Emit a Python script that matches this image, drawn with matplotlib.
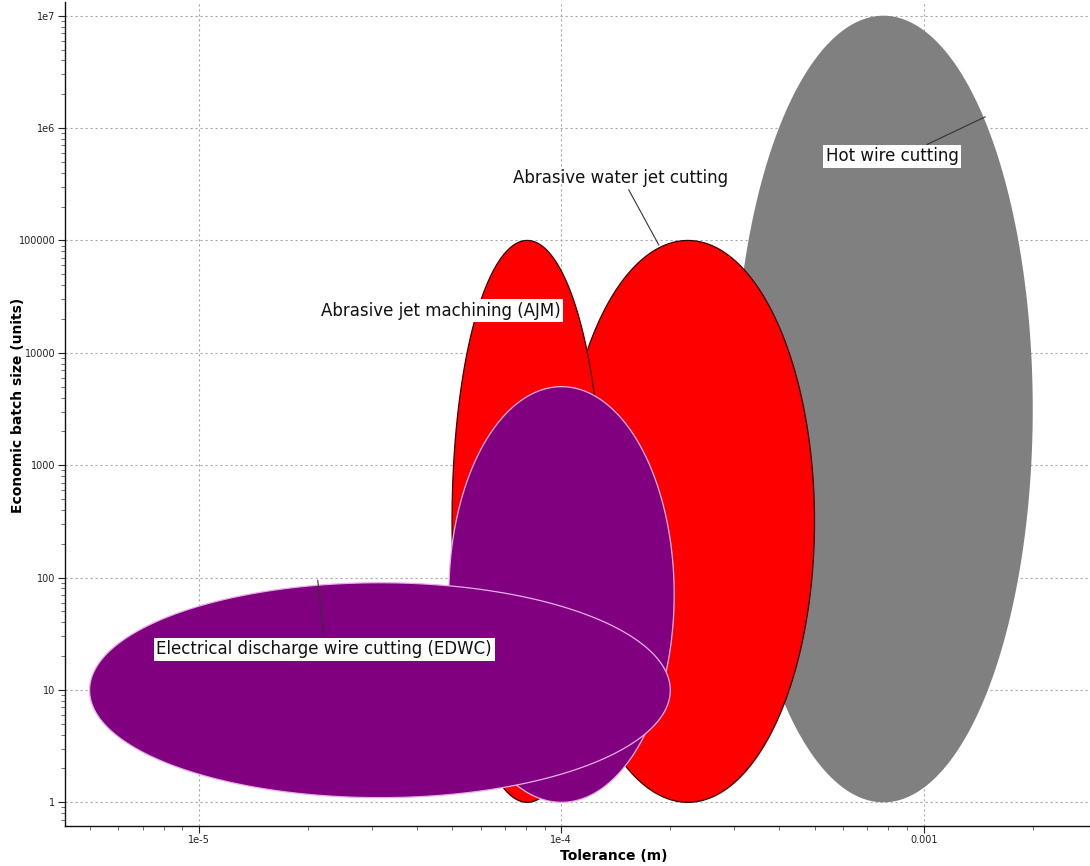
"""Process selection chart: tolerance vs economic batch size."""
import numpy as np
import matplotlib
matplotlib.use('Agg')
import matplotlib.pyplot as plt
from matplotlib.ticker import FixedLocator, FixedFormatter, LogLocator, NullFormatter

plt.rcParams['font.family'] = ['DejaVu Sans']

# process ranges: (tol min, tol max), (batch min, batch max)
processes = ['Hot wire cutting', 'Abrasive water jet cutting',
             'Abrasive jet machining (AJM)', 'EDWC vertical',
             'Electrical discharge wire cutting (EDWC)']
tol_lo = [3e-4, 1e-4, 5e-5, 4.9e-5, 5e-6]
tol_hi = [2e-3, 5e-4, 1.3e-4, 2.05e-4, 2e-4]
batch_lo = [1, 1, 1, 1, 1.1]
batch_hi = [1e7, 1e5, 1e5, 5000, 90]
fills = ['#808080', '#ff0000', '#ff0000', '#800080', '#800080']
edges = ['none', '#3a0000', '#3a0000', '#e8b0e8', '#e8b0e8']

# label text, label centre, leader end point, leader start on box
labels = ['Hot wire cutting', 'Abrasive water jet cutting',
          'Abrasive jet machining (AJM)', 'Electrical discharge wire cutting (EDWC)']
label_x = [8.2e-4, 1.46e-4, 4.66e-5, 2.22e-5]
label_y = [5.64e5, 3.6e5, 2.36e4, 23.1]
leader_x = [1.48e-3, 1.86e-4, None, 2.13e-5]
leader_y = [1.26e6, 9.1e4, None, 95]
leader_rel = [(0.72, 1.0), (0.53, 0.0), None, (0.5, 1.0)]
label_box = [True, False, True, True]

xticks = [1e-5, 1e-4, 1e-3]
xticklabels = ['1e-5', '1e-4', '0.001']
yticks = [1, 10, 100, 1000, 10000, 100000, 1e6, 1e7]
yticklabels = ['1', '10', '100', '1000', '10000', '100000', '1e6', '1e7']


def log_ellipse(x0, x1, y0, y1, n=400):
    """Ellipse spanning the ranges, drawn in log-log space."""
    lx0, lx1 = np.log10(x0), np.log10(x1)
    ly0, ly1 = np.log10(y0), np.log10(y1)
    t = np.linspace(0, 2 * np.pi, n)
    lx = (lx0 + lx1) / 2 + (lx1 - lx0) / 2 * np.cos(t)
    ly = (ly0 + ly1) / 2 + (ly1 - ly0) / 2 * np.sin(t)
    return 10 ** lx, 10 ** ly


fig = plt.figure(figsize=(10.9, 8.66), dpi=100)
ax = fig.add_axes([65.3 / 1090, 1 - 825.7 / 866, 1 - 65.3 / 1090, (825.7 - 2) / 866])
ax.set_xscale('log')
ax.set_yscale('log')

for i in range(len(processes)):
    ex, ey = log_ellipse(tol_lo[i], tol_hi[i], batch_lo[i], batch_hi[i])
    ax.fill(ex, ey, facecolor=fills[i], edgecolor=edges[i],
            linewidth=0.9, zorder=2 + i)

for i in range(len(labels)):
    bbox = dict(boxstyle='square,pad=0.15', facecolor='white', edgecolor='none') if label_box[i] else None
    if leader_x[i] is None:
        ax.text(label_x[i], label_y[i], labels[i], fontsize=12, ha='center', va='center',
                color='#111111', bbox=bbox, zorder=10)
    else:
        ax.annotate(labels[i], xy=(leader_x[i], leader_y[i]), xytext=(label_x[i], label_y[i]),
                    fontsize=12, ha='center', va='center', color='#111111', bbox=bbox, zorder=10,
                    arrowprops=dict(arrowstyle='-', color='#333333', lw=0.8,
                                    relpos=leader_rel[i], shrinkA=0, shrinkB=0))

ax.set_xlim(10 ** -5.368, 10 ** -2.541)
ax.set_ylim(10 ** -0.208, 10 ** 7.122)

ax.xaxis.set_major_locator(FixedLocator(xticks))
ax.xaxis.set_major_formatter(FixedFormatter(xticklabels))
ax.yaxis.set_major_locator(FixedLocator(yticks))
ax.yaxis.set_major_formatter(FixedFormatter(yticklabels))
for axis in (ax.xaxis, ax.yaxis):
    axis.set_minor_locator(LogLocator(base=10, subs=np.arange(2, 10), numticks=20))
    axis.set_minor_formatter(NullFormatter())

ax.tick_params(which='major', length=5, width=0.8, labelsize=7, colors='#222222', pad=2)
ax.tick_params(which='minor', length=3, width=0.6, colors='#555555')
ax.grid(True, which='major', linestyle=(0, (2, 2.5)), color='#a8a8a8', linewidth=0.8, zorder=1)
ax.set_axisbelow(True)

for side in ('top', 'right'):
    ax.spines[side].set_visible(False)
for side in ('left', 'bottom'):
    ax.spines[side].set_color('#111111')
    ax.spines[side].set_linewidth(1.0)

ax.set_xlabel('Tolerance (m)', fontsize=10, fontweight='bold')
ax.set_ylabel('Economic batch size (units)', fontsize=10, fontweight='bold')
ax.xaxis.set_label_coords((614 - 65.3) / (1090 - 65.3), -0.028)
ax.yaxis.set_label_coords(-0.039, 0.51)

fig.savefig('out.png', dpi=100)
